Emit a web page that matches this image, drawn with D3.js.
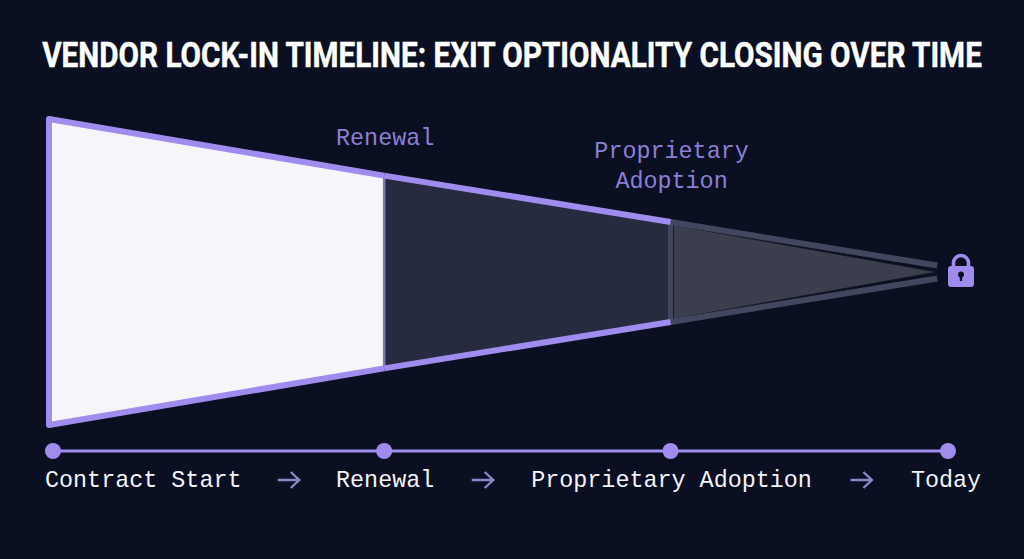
<!DOCTYPE html>
<meta charset="utf-8">
<script src="https://d3js.org/d3.v7.min.js"></script>
<style>
 html, body { margin: 0; padding: 0; background: #0a0f21; overflow: hidden; }
 svg { display: block; }
 .mono { font-family: "Liberation Mono", monospace; font-size: 23.4px; }
</style>
<div id="chart"></div>
<script>
 const titleText = "VENDOR LOCK-IN TIMELINE: EXIT OPTIONALITY CLOSING OVER TIME";

 // timeline, position in percent of elapsed time
 const stages = ["Contract Start", "Renewal", "Proprietary Adoption", "Today"];
 const stageTimes = [0, 37, 69, 100];

 // the wedge: how much exit optionality is left at each time
 const wedgeTimes = [-0.45, 37, 69, 98.8];
 const optionality = [100, 63, 32.7, 4.2];

 const calloutLines = [["Renewal"], ["Proprietary", "Adoption"]];
 const calloutStage = [1, 2];

 const colorBg = "#0a0f21";
 const colorPurple = "#a08bee";
 const colorLabel = "#8d7fd6";
 const colorArrow = "#8a86c8";
 const colorText = "#f4f4fa";
 const colorBand = "#43465f";
 const segFills = ["#f6f5fb", "#272b40", "#3b3e4c"];

 const width = 1024, height = 559;
 const x = d3.scaleLinear().domain([0, 100]).range([53, 948]);
 const y = d3.scaleLinear().domain([-100, 100]).range([425, 119]);

 const svg = d3.select("#chart").append("svg")
               .attr("width", width).attr("height", height)
               .style("background-color", colorBg);

 // squeeze the title horizontally, the original face is a condensed one
 const title = svg.append("text")
    .attr("text-anchor", "middle")
    .style("font-family", "Roboto").style("font-weight", 700).style("font-size", "34.5px")
    .style("fill", "#ffffff").style("stroke", "#ffffff").style("stroke-width", 0.5)
    .text(titleText);
 title.attr("transform", `translate(512,67) scale(${940 / title.node().getComputedTextLength()},1)`);

 // corners of the wedge piece i -> i+1, optional inset
 function corners(i, inL = 0, inV = 0) {
     const x0 = x(wedgeTimes[i]) + inL, x1 = x(wedgeTimes[i + 1]);
     const a = optionality[i], b = optionality[i + 1];
     return [[x0, y(a) + inV], [x1, y(b) + inV], [x1, y(-b) - inV], [x0, y(-a) - inV]];
 }

 const wedge = svg.append("g");

 // fills, first two pieces
 [0, 1].forEach(i => {
     wedge.append("polygon")
          .attr("points", corners(i).join(" "))
          .attr("fill", segFills[i]);
 });

 // last piece: grey fill with a dark hairline, inside a muted band
 const last = corners(2, 3, 3);
 wedge.append("polygon")
      .attr("points", [last[0], [x(wedgeTimes[3]), y(0)], last[3]].join(" "))
      .attr("fill", segFills[2])
      .attr("stroke", "#14172a").attr("stroke-width", 1);

 // edges
 const edge = (p, q, color, w) => wedge.append("line")
     .attr("x1", p[0]).attr("y1", p[1]).attr("x2", q[0]).attr("y2", q[1])
     .attr("stroke", color).attr("stroke-width", w);

 const c2 = corners(2);
 edge(c2[0], c2[1], colorBand, 6);
 edge(c2[3], c2[2], colorBand, 6);
 edge([c2[0][0], c2[0][1] - 3], [c2[3][0], c2[3][1] + 3], colorBand, 5);

 const c1 = corners(1);
 edge(c1[0], c1[3], "#7f7bb0", 2.5);

 [0, 1].forEach(i => {
     const c = corners(i);
     edge(c[0], c[1], colorPurple, 6);
     edge(c[3], c[2], colorPurple, 6);
 });
 const c0 = corners(0);
 edge(c0[0], c0[3], colorPurple, 6).attr("stroke-linecap", "round");

 // callouts above the wedge
 const calloutTop = [137, 150];
 calloutLines.forEach((lines, k) => {
     lines.forEach((line, j) => {
         svg.append("text").attr("class", "mono")
            .attr("x", x(stageTimes[calloutStage[k]]) + 1)
            .attr("y", calloutTop[k] + j * 30)
            .attr("dy", "0.33em")
            .attr("text-anchor", "middle")
            .style("fill", colorLabel)
            .text(line);
     });
 });

 // lock at the tip
 const lock = svg.append("g")
                 .attr("transform", `translate(${x(100) + 13},270)`)
                 .attr("fill", colorPurple);
 lock.append("path")
     .attr("d", "M-7.5,-3V-7A7.5,7.5 0 0 1 7.5,-7V-3")
     .attr("fill", "none").attr("stroke", colorPurple).attr("stroke-width", 3.6);
 lock.append("rect")
     .attr("x", -13).attr("y", -4).attr("width", 26).attr("height", 21).attr("rx", 3);
 lock.append("circle").attr("cx", 0).attr("cy", 4.5).attr("r", 3).attr("fill", colorBg);
 lock.append("rect").attr("x", -1.2).attr("y", 5).attr("width", 2.4).attr("height", 6).attr("fill", colorBg);

 // timeline
 const axisY = 451;
 svg.append("line")
    .attr("x1", x(0)).attr("x2", x(100)).attr("y1", axisY).attr("y2", axisY)
    .attr("stroke", colorPurple).attr("stroke-width", 3);
 svg.selectAll("circle.dot").data(stageTimes).join("circle")
    .attr("class", "dot")
    .attr("cx", d => x(d)).attr("cy", axisY).attr("r", 8)
    .attr("fill", colorPurple);

 const labels = svg.selectAll("text.stage").data(stages).join("text")
    .attr("class", "stage mono")
    .attr("x", (d, i) => i == 0 ? x(stageTimes[i]) - 8 : x(stageTimes[i]) + (i == 3 ? -2 : 1))
    .attr("y", 487)
    .attr("text-anchor", (d, i) => i == 0 ? "start" : "middle")
    .style("fill", colorText)
    .text(d => d);

 // arrows sit half way between neighbouring labels
 const boxes = labels.nodes().map(n => n.getBBox());
 d3.range(stages.length - 1).forEach(i => {
     const cx = (boxes[i].x + boxes[i].width + boxes[i + 1].x) / 2;
     const a = svg.append("g").attr("transform", `translate(${cx},480)`)
                  .attr("fill", "none").attr("stroke", colorArrow).attr("stroke-width", 2.4);
     a.append("path").attr("d", "M-11,0H10M2,-8L10.5,0L2,8");
 });
</script>
